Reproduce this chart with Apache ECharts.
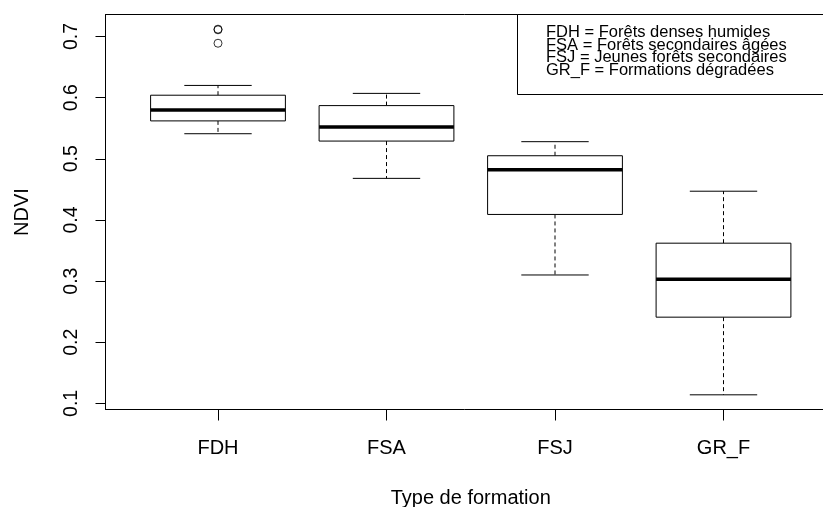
<!DOCTYPE html>
<html>
<head>
<meta charset="utf-8">
<script src="https://cdn.jsdelivr.net/npm/echarts@6.0.0/dist/echarts.min.js"></script>
<style>
  html, body { margin: 0; padding: 0; background: #fff; }
  #chart { width: 823px; height: 507px; }
</style>
</head>
<body>
<div id="chart"></div>
<script>
// NDVI par type de formation (boxplot)
const categories = ['FDH', 'FSA', 'FSJ', 'GR_F'];
const lowerWhisker = [0.541, 0.468, 0.310, 0.114];
const lowerQuartile = [0.562, 0.529, 0.409, 0.241];
const medians = [0.580, 0.552, 0.482, 0.303];
const upperQuartile = [0.604, 0.587, 0.505, 0.362];
const upperWhisker = [0.620, 0.607, 0.528, 0.447];
const outlierCategory = ['FDH', 'FDH', 'FDH'];
const outlierValues = [0.711, 0.712, 0.689];
const yTicks = [0.1, 0.2, 0.3, 0.4, 0.5, 0.6, 0.7];
const legendLines = [
  'FDH = Forêts denses humides',
  'FSA = Forêts secondaires âgées',
  'FSJ = Jeunes forêts secondaires',
  'GR_F = Formations dégradées'
];

const FONT = '"Liberation Sans", Arial, sans-serif';
const Y_MIN = 0.09, Y_MAX = 0.736;

const boxData = categories.map((c, i) => [i, lowerWhisker[i], lowerQuartile[i], medians[i], upperQuartile[i], upperWhisker[i]]);
const outlierData = outlierValues.map((v, i) => [outlierCategory[i], v]);

function renderBox(params, api) {
  const x = api.value(0);
  const band = api.size([1, 0])[0];
  const cx = api.coord([x, 0])[0];
  const yLow = api.coord([x, api.value(1)])[1];
  const yQ1 = api.coord([x, api.value(2)])[1];
  const yMed = api.coord([x, api.value(3)])[1];
  const yQ3 = api.coord([x, api.value(4)])[1];
  const yHigh = api.coord([x, api.value(5)])[1];
  const half = band * 0.4;
  const cap = band * 0.2;
  const solid = { stroke: '#000', lineWidth: 1, fill: null };
  const dashed = { stroke: '#000', lineWidth: 1, lineDash: [4, 3] };
  return {
    type: 'group',
    children: [
      { type: 'line', shape: { x1: cx, y1: yQ3, x2: cx, y2: yHigh }, style: dashed },
      { type: 'line', shape: { x1: cx, y1: yQ1, x2: cx, y2: yLow }, style: dashed },
      { type: 'line', shape: { x1: cx - cap, y1: yHigh, x2: cx + cap, y2: yHigh }, style: solid },
      { type: 'line', shape: { x1: cx - cap, y1: yLow, x2: cx + cap, y2: yLow }, style: solid },
      { type: 'rect', shape: { x: cx - half, y: yQ3, width: half * 2, height: yQ1 - yQ3 }, style: { stroke: '#000', lineWidth: 1, fill: '#fff' } },
      { type: 'line', shape: { x1: cx - half, y1: yMed, x2: cx + half, y2: yMed }, style: { stroke: '#000', lineWidth: 3.5 } }
    ]
  };
}

const chart = echarts.init(document.getElementById('chart'));
chart.setOption({
  backgroundColor: '#fff',
  animation: false,
  title: {
    left: 517,
    top: 14.5,
    text: legendLines.join('\n'),
    padding: [12, 0, 18, 29],
    textStyle: { fontFamily: FONT, fontSize: 16.5, fontWeight: 'normal', color: '#000', lineHeight: 12.5 }
  },
  graphic: [
    {
      type: 'rect', z: 1,
      shape: { x: 517.5, y: 14.5, width: 330, height: 80 },
      style: { fill: '#fff', stroke: '#000', lineWidth: 1 }
    }
  ],
  grid: [
    { left: 133.75, top: 14.5, width: 674, height: 395, outerBoundsMode: 'none' },
    { left: 105.5, top: 14.5, width: 728, height: 395, outerBoundsMode: 'none', show: true, borderColor: '#000', borderWidth: 1, backgroundColor: 'transparent' }
  ],
  xAxis: [
    {
      type: 'category', gridIndex: 0, data: categories,
      name: 'Type de formation', nameLocation: 'middle', nameGap: 79,
      nameTextStyle: { fontFamily: FONT, fontSize: 20, color: '#000' },
      axisLine: { show: false },
      axisTick: { show: true, alignWithLabel: true, length: 11, lineStyle: { color: '#000', width: 1 } },
      axisLabel: { fontFamily: FONT, fontSize: 20, color: '#000', margin: 29 },
      splitLine: { show: false }
    },
    { type: 'value', gridIndex: 1, min: 0, max: 1, show: false }
  ],
  yAxis: [
    {
      type: 'value', gridIndex: 1, min: Y_MIN, max: Y_MAX,
      name: 'NDVI', nameLocation: 'middle', nameGap: 73,
      nameTextStyle: { fontFamily: FONT, fontSize: 20, color: '#000' },
      axisLine: { show: true, lineStyle: { color: '#000', width: 1 } },
      axisTick: { show: true, length: 10, customValues: yTicks, lineStyle: { color: '#000', width: 1 } },
      axisLabel: { customValues: yTicks, rotate: 90, fontFamily: FONT, fontSize: 19.5, color: '#000', margin: 24 },
      splitLine: { show: false }
    },
    { type: 'value', gridIndex: 0, min: Y_MIN, max: Y_MAX, show: false }
  ],
  series: [
    {
      type: 'custom', name: 'NDVI', xAxisIndex: 0, yAxisIndex: 1,
      renderItem: renderBox,
      encode: { x: 0, y: [1, 2, 3, 4, 5] },
      data: boxData
    },
    {
      type: 'scatter', name: 'outliers', xAxisIndex: 0, yAxisIndex: 1,
      symbol: 'circle', symbolSize: 8,
      itemStyle: { color: 'rgba(0,0,0,0)', borderColor: '#000', borderWidth: 1 },
      data: outlierData
    }
  ]
});
</script>
</body>
</html>
